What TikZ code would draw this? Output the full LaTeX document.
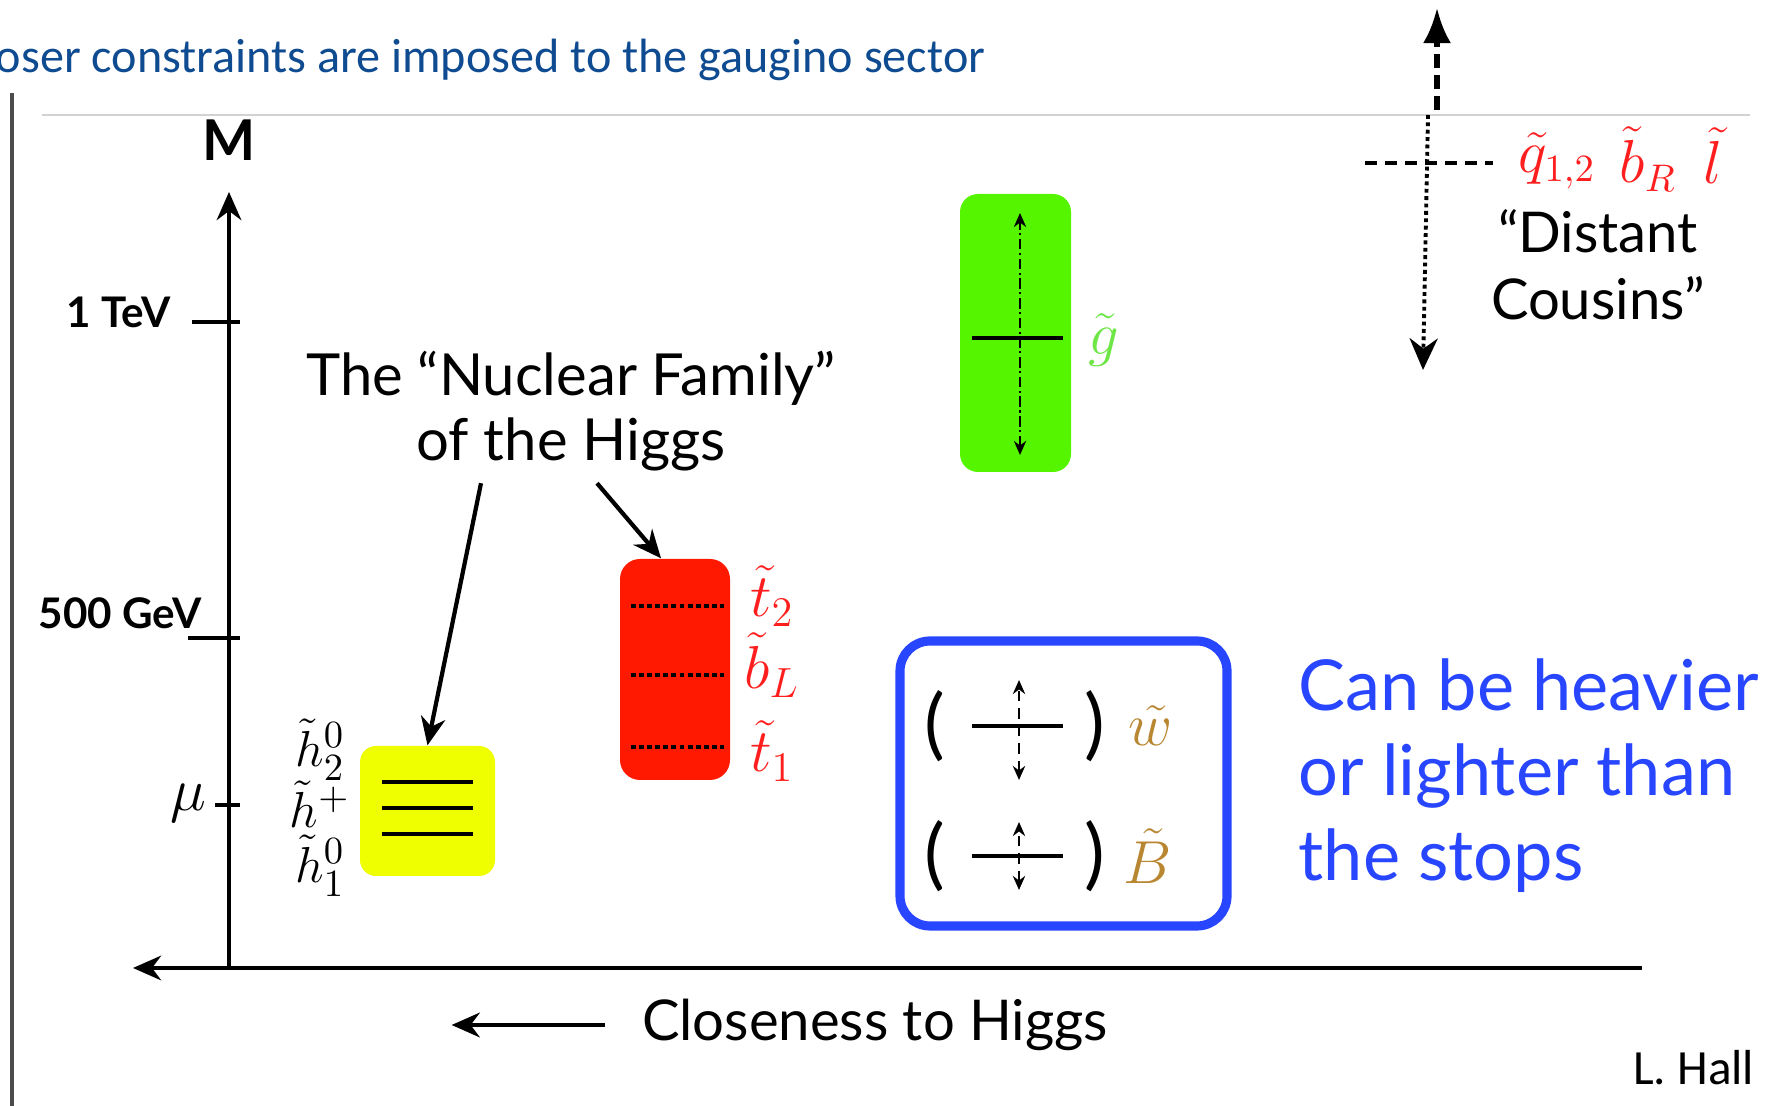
\documentclass[tikz,border=0pt]{standalone}
\usepackage{fontspec}
\setmainfont{Lato}
\newfontfamily\calibfont{Carlito}
\usepackage{amsmath}
\usetikzlibrary{arrows.meta}

\definecolor{titleblue}{RGB}{15,75,145}
\definecolor{hyellow}{RGB}{240,255,0}
\definecolor{stopred}{RGB}{255,25,0}
\definecolor{labred}{RGB}{255,30,30}
\definecolor{gluegreen}{RGB}{85,245,0}
\definecolor{gluelab}{RGB}{110,230,70}
\definecolor{gaugeblue}{RGB}{40,70,255}
\definecolor{gold}{RGB}{185,135,50}
\newcommand\fs[1]{\fontsize{#1}{1.2\dimexpr#1pt\relax}\selectfont}

\begin{document}
\begin{tikzpicture}[every node/.style={black},
	axis/.style={line width=1.2pt},
	tick/.style={line width=1.1pt},
	pbox/.style={rounded corners=0.16cm, draw=none, inner sep=0pt},
	level/.style={line width=1.1pt},
	updown/.style={{Stealth[length=4pt,width=3.5pt]}-{Stealth[length=4pt,width=3.5pt]}},
	pointer/.style={line width=1.2pt, -{Stealth[length=8pt,width=7pt]}}]
	\useasboundingbox (0,0) rectangle (17.73,11.06);

	% frame of the slide
	\draw[gray!35, line width=0.5pt] (0.42,9.91)--(17.50,9.91);
	\draw[gray!60!black, line width=1.3pt] (0.12,0)--(0.12,10.13);
	\node[anchor=base east, inner sep=0pt, text=titleblue, font=\calibfont\fs{13.7}] (title) at (9.86,10.33) {oser constraints are imposed to the gaugino sector};

	% mass axis
	\coordinate (O) at (2.29,1.38);
	\draw[axis, -{Stealth[length=8pt,width=7pt]}] (O)--(2.29,9.14);
	\draw[axis, -{Stealth[length=8pt,width=7pt]}] (16.42,1.38)--(1.33,1.38);
	\node[font=\bfseries\fs{16}] (M) at (2.29,9.66) {M};

	\draw[tick] (1.92,7.84)--(2.40,7.84);
	\draw[tick] (1.88,4.68)--(2.40,4.68);
	\draw[tick] (2.15,3.01)--(2.40,3.01);
	\node[anchor=base east, inner sep=0pt, font=\bfseries\fs{12}] (tev) at (1.71,7.78) {1 TeV};
	\node[anchor=base east, inner sep=0pt, font=\bfseries\fs{12}] (gev) at (2.02,4.77) {500 GeV};
	\node[anchor=east, inner sep=1pt, font=\fs{16}] (mu) at (2.10,3.03) {$\mu$};

	% higgsinos
	\node[pbox, fill=hyellow, minimum width=1.35cm, minimum height=1.30cm] (hsino) at (4.275,2.95) {};
	\foreach \y in {3.24,2.98,2.72}
		\draw[level] (3.82,\y)--(4.73,\y);
	\node[inner sep=0pt, font=\fs{15}] (h2) at (3.20,3.56) {$\tilde h_2^0$};
	\node[inner sep=0pt, font=\fs{15}] (hp) at (3.20,3.02) {$\tilde h^+$};
	\node[inner sep=0pt, font=\fs{15}] (h1) at (3.20,2.40) {$\tilde h_1^0$};

	% stops and left sbottom
	\node[pbox, rounded corners=0.2cm, fill=stopred, minimum width=1.10cm, minimum height=2.21cm] (stops) at (6.75,4.365) {};
	\foreach \y in {5.00,4.31,3.59}
		\draw[line width=1.2pt, dash pattern=on 1.4pt off 0.9pt] (6.31,\y)--(7.24,\y);
	\node[text=labred, font=\fs{17}] (t2) at (7.72,5.10) {$\tilde t_2$};
	\node[text=labred, font=\fs{17}] (bL) at (7.72,4.41) {$\tilde b_L$};
	\node[text=labred, font=\fs{17}] (t1) at (7.72,3.55) {$\tilde t_1$};

	% gluino
	\node[pbox, rounded corners=0.18cm, fill=gluegreen, minimum width=1.11cm, minimum height=2.78cm] (gluino) at (10.155,7.73) {};
	\draw[level] (9.72,7.68)--(10.63,7.68);
	\draw[updown, line width=0.6pt, dash pattern=on 3pt off 1pt on 0.6pt off 1pt] (10.20,6.51)--(10.20,8.93);
	\node[text=gluelab, font=\fs{19}] (glab) at (11.04,7.66) {$\tilde g$};

	% nuclear family
	\node[align=center, font=\fontsize{16.5}{18.4}\selectfont] (nuc) at (5.71,6.95) {The “Nuclear Family”\\of the Higgs};
	\draw[pointer] ([xshift=-0.9cm]nuc.south)--(hsino.north);
	\draw[pointer] ([xshift=0.26cm]nuc.south)--([xshift=-0.14cm]stops.north);

	% electroweak gauginos
	\node[pbox, draw=gaugeblue, line width=2.6pt, rounded corners=0.3cm, minimum width=3.27cm, minimum height=2.85cm] (ewk) at (10.635,3.225) {};
	\node[inner sep=0pt, font=\fs{22}] (lp1) at (9.35,3.80) {(};
	\node[inner sep=0pt, font=\fs{22}] (rp1) at (10.95,3.80) {)};
	\draw[level] (9.72,3.80)--(10.63,3.80);
	\draw[updown, line width=0.7pt, densely dashed] (10.19,3.26)--(10.19,4.26);
	\node[inner sep=0pt, text=gold, font=\fs{16}] (wino) at (11.51,3.80) {$\tilde w$};
	\node[inner sep=0pt, font=\fs{22}] (lp2) at (9.35,2.50) {(};
	\node[inner sep=0pt, font=\fs{22}] (rp2) at (10.95,2.50) {)};
	\draw[level] (9.72,2.50)--(10.63,2.50);
	\draw[updown, line width=0.7pt, densely dashed] (10.19,2.16)--(10.19,2.84);
	\node[inner sep=0pt, text=gold, font=\fs{16}] (bino) at (11.48,2.50) {$\tilde B$};
	\node[anchor=west, inner sep=0pt, align=left, text=gaugeblue, font=\fontsize{20}{24.2}\selectfont] (note) at (12.98,3.30) {Can be heavier\\or lighter than\\the stops};

	% closeness axis label
	\node[font=\fs{16}] (close) at (8.75,0.81) {Closeness to Higgs};
	\draw[line width=1.3pt, -{Stealth[length=8pt,width=7pt]}] ([xshift=-0.25cm]close.west)--([xshift=-1.78cm]close.west);
	\node[anchor=east, inner sep=0pt, font=\calibfont\fs{14}] (hall) at (17.55,0.38) {L. Hall};

	% distant cousins
	\coordinate (dc) at (14.28,9.91);
	\draw[line width=1.6pt, dash pattern=on 4pt off 2pt, -{Latex[length=10pt,width=8pt]}] (14.37,9.96)--(14.37,10.98);
	\draw[line width=1.1pt, densely dotted, -{Stealth[length=9pt,width=8pt]}] (dc)--(14.23,7.36);
	\draw[line width=1.4pt, dash pattern=on 3.4pt off 2.3pt] (13.65,9.43)--(14.93,9.43);
	\node[text=labred, font=\fs{16}] (q12) at (15.57,9.45) {$\tilde q_{1,2}$};
	\node[text=labred, font=\fs{16}] (bR) at (16.48,9.47) {$\tilde b_R$};
	\node[text=labred, font=\fs{16}] (ll) at (17.13,9.50) {$\tilde l$};
	\node[align=center, font=\fs{16}] (cousins) at (15.98,8.41) {“Distant\\Cousins”};
\end{tikzpicture}
\end{document}
